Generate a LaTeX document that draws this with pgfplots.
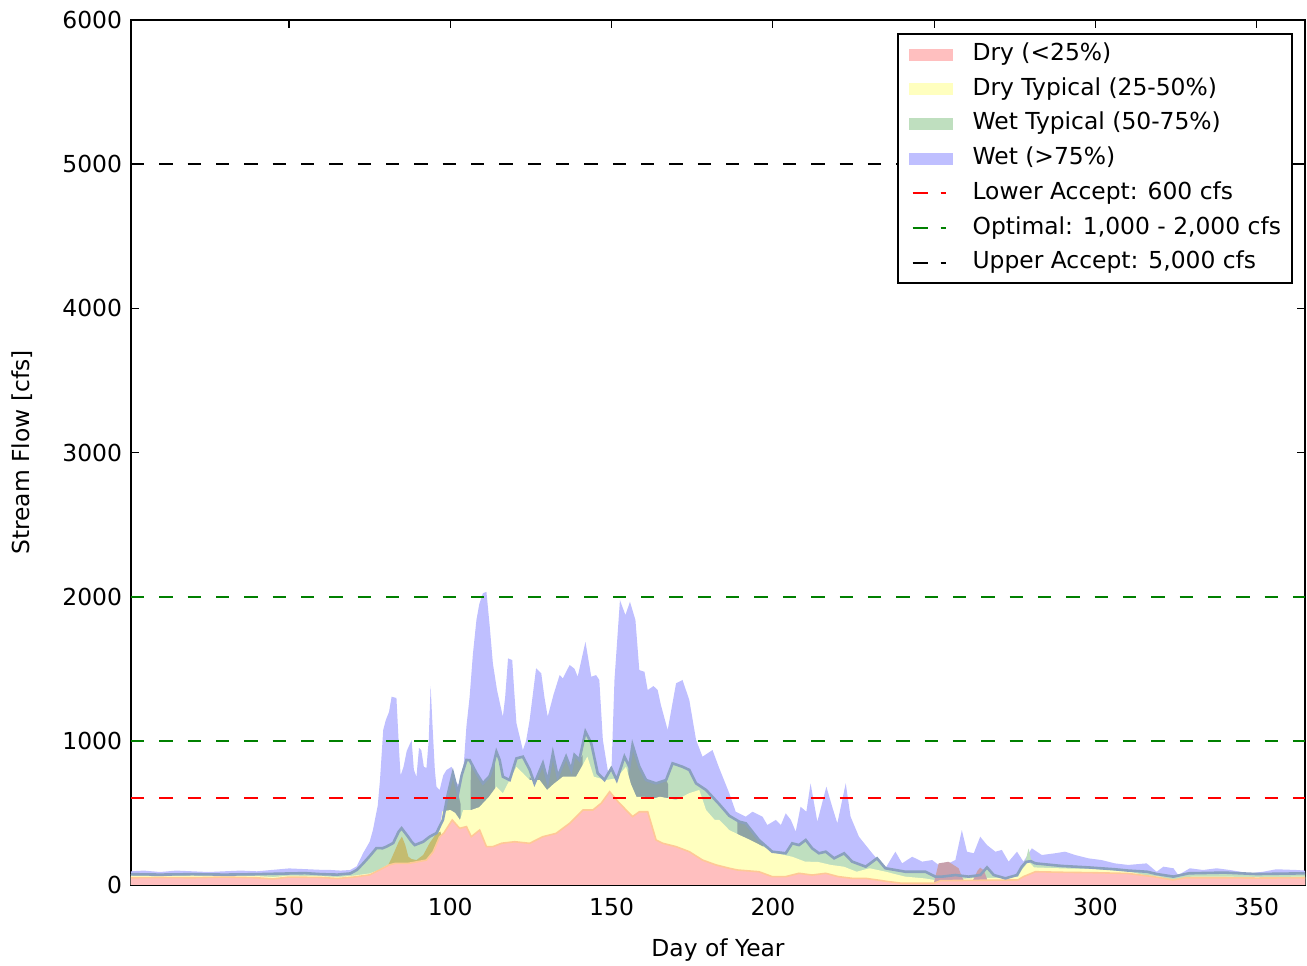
\documentclass[border=0pt]{standalone}
\usepackage{pgfplots}
\pgfplotsset{compat=1.18}
\usepackage{fontspec}
\setmainfont{DejaVu Sans}
\definecolor{wetfill}{RGB}{191,191,255}
\definecolor{wtfill}{RGB}{191,223,191}
\definecolor{dtfill}{RGB}{255,255,191}
\definecolor{dryfill}{RGB}{255,191,191}
\definecolor{grayov}{RGB}{143,164,164}
\definecolor{olivefill}{RGB}{196,188,112}
\definecolor{mauve}{RGB}{200,160,172}
\definecolor{gline}{RGB}{138,160,190}
\definecolor{pedge}{RGB}{255,200,150}
\definecolor{mplgreen}{RGB}{0,128,0}
\newcommand{\fs}{\fontsize{11.7}{14}\selectfont}
\pgfplotsset{
  arealeg/.style={legend image code/.code={\fill[##1] (0pt,-2.5pt) rectangle (21pt,2.5pt);}},
  refleg/.style={legend image code/.code={\draw[##1, dash pattern=on 7.5pt off 6.5pt on 2.5pt off 20pt] (1.5pt,0pt) -- (21pt,0pt);}},
}
\begin{document}
\begin{tikzpicture}
\begin{axis}[
  scale only axis, width=587pt, height=432.5pt,
  xmin=1, xmax=365, ymin=0, ymax=6000,
  xtick={50,100,150,200,250,300,350},
  ytick={0,1000,2000,3000,4000,5000,6000},
  tick align=inside, major tick length=4pt,
  tick style={black, line width=0.6pt},
  axis line style={black, line width=1pt},
  /pgf/number format/assume math mode=true,
  /pgf/number format/1000 sep={},
  tick label style={font=\fs},
  xticklabel style={yshift=-3pt},
  yticklabel style={xshift=-1pt},
  xlabel={Day of Year}, ylabel={Stream Flow [cfs]},
  every axis x label/.style={at={(axis description cs:0.5,0)}, anchor=center, yshift=-32.5pt, font=\fs},
  every axis y label/.style={at={(axis description cs:0,0.5)}, anchor=center, xshift=-54.5pt, rotate=90, font=\fs},
  legend style={at={(axis description cs:1,1)}, anchor=north east, xshift=-6pt, yshift=-6.5pt,
    font=\fs, draw=black, line width=1pt, inner xsep=5.5pt, inner ysep=4.3pt,
    row sep=5.35pt, nodes={inner sep=0pt, text height=9pt, text depth=3pt},
    /tikz/every odd column/.append style={column sep=10pt}},
  legend cell align=left,
]
% legend entries for the bands
\addlegendimage{arealeg, dryfill}
\addlegendentry{Dry (<25\%)}
\addlegendimage{arealeg, dtfill}
\addlegendentry{Dry Typical (25-50\%)}
\addlegendimage{arealeg, wtfill}
\addlegendentry{Wet Typical (50-75\%)}
\addlegendimage{arealeg, wetfill}
\addlegendentry{Wet (>75\%)}
% Wet (top)
\addplot[fill=wetfill, draw=none, forget plot] coordinates {
(1,95)(5,100)(10,90)(15,100)(20,95)(25,90)(30,95)(35,100)(40,95)(45,105)(50,115)(55,110)(60,105)(63,104)(66,100)(69,104)(71,130)(73,222)(75,300)(76,381)(77.5,550)(78.2,728)(79.2,1075)(80,1144)(81,1200)(81.8,1306)(83.3,1297)(84.2,900)(84.6,760)(85.5,820)(86.5,930)(88,1005)(88.7,800)(89.5,751)(90.3,950)(91,936)(91.8,820)(92.6,811)(93.3,1000)(93.9,1380)(94.5,1100)(95.2,800)(95.7,682)(96.7,659)(97.8,760)(98.8,797)(100.4,820)(101.9,707)(103.2,690)(103.9,751)(105,1100)(106,1306)(107,1600)(108.1,1838)(109,1950)(110.1,2023)(111.2,2034)(112.2,1800)(113.2,1537)(114.5,1350)(116.3,1167)(117,1300)(117.9,1572)(119.2,1560)(119.8,1350)(120.5,1123)(122.5,936)(123.5,1000)(124.6,1144)(126.6,1503)(128.2,1468)(129.2,1300)(130.2,1167)(132,1320)(133.9,1456)(134.9,1433)(137,1526)(138.5,1500)(139.5,1445)(141.9,1687)(143.7,1445)(145.2,1456)(146.2,1422)(147.3,1006)(148.8,798)(149.9,751)(150.9,1422)(152.6,1976)(154.3,1872)(155.7,1965)(157.4,1838)(158.6,1491)(160.2,1479)(161.2,1352)(163,1380)(164.3,1352)(165.3,1248)(167.4,1075)(170,1399)(172,1422)(174.1,1283)(176.2,1006)(178.2,890)(181.3,936)(183.4,809)(186.5,636)(188.5,508)(191.6,474)(193.7,508)(196.8,474)(198.3,416)(200.9,451)(202.5,416)(204,497)(205.6,451)(207.1,370)(208.6,543)(210.4,508)(211.7,705)(213.8,439)(216.6,682)(218.4,543)(220,428)(222.6,705)(224.1,474)(226.7,335)(230.8,220)(234.9,116)(238,231)(240.1,150)(243.2,196)(246.3,162)(249.4,173)(251.4,139)(254.5,150)(256.6,173)(258.6,381)(260.2,231)(262.3,220)(264.3,335)(266.4,277)(269,231)(271,243)(273.1,162)(275.7,231)(277.7,162)(280.3,254)(283.4,208)(287.5,220)(290.6,231)(293.7,208)(297.8,185)(301.9,173)(306,150)(310.2,139)(315.9,150)(319,92)(321.1,127)(324.2,116)(325.7,69)(329.3,116)(333.4,104)(337.6,116)(341.7,104)(347.9,81)(352,92)(356.1,109)(362.3,104)(365,100)
} \closedcycle;
% Wet Typical (green)
\addplot[fill=wtfill, draw=none, forget plot] coordinates {
(1,75)(10,72)(20,75)(30,72)(40,75)(50,80)(55,82)(60,75)(65,72)(69,80)(71,104)(73,150)(75,200)(77.1,256)(79,255)(80.2,266)(82.3,291)(84,370)(84.9,394)(86.9,335)(88,300)(89,277)(91.6,300)(93.6,335)(95.7,360)(97.7,451)(99.3,636)(100.8,776)(102.4,636)(103.5,760)(105,867)(106,866)(108.1,776)(110.1,705)(112.2,755)(113.2,820)(114.3,924)(115.3,867)(116.3,751)(118.4,728)(120.5,878)(122.5,890)(124.6,800)(126.1,705)(128.7,844)(130.2,716)(131.8,913)(133.3,751)(135.9,890)(137.5,798)(138.5,902)(140,867)(141.9,1063)(143.7,983)(145.7,775)(147.8,728)(149.9,809)(151.6,728)(154,890)(155.5,820)(156.5,971)(158.6,820)(160.7,728)(163.8,705)(166.9,728)(168.9,844)(172,820)(174.1,798)(176.2,705)(179.3,659)(183.4,560)(186.5,480)(189.6,439)(191.6,428)(195.7,312)(199.8,231)(204,220)(206,289)(208.1,277)(210.2,312)(212.2,254)(214.3,220)(216.4,231)(219,185)(222.1,220)(224.6,162)(228.8,127)(232.3,185)(234.9,116)(241.1,92)(247.3,92)(250.4,58)(252.5,58)(256.6,69)(260.7,58)(264.3,69)(266.4,122)(268.5,69)(272.1,46)(275.7,69)(277.2,127)(278.5,180)(279.3,254)(280,180)(281.4,150)(289.6,132)(297.8,122)(306,109)(310.2,100)(316,92)(319,76)(324.2,58)(329,81)(340,86)(350,76)(365,81)
} \closedcycle;
% overlap (grey) segments
\addplot[fill=grayov, draw=none, forget plot] coordinates {(97,380)(97.7,451)(99.3,636)(100.8,776)(102.4,636)(103.2,560)} \closedcycle;
\addplot[fill=grayov, draw=none, forget plot] coordinates {(106.3,700)(106.5,850)(108.1,776)(110.1,705)(112.2,755)(113.2,820)(113.8,880)} \closedcycle;
\addplot[fill=grayov, draw=none, forget plot] coordinates {(124.6,750)(126.1,705)(128.7,844)(130.2,716)(131.8,913)(133.3,751)(135.9,890)(137.5,798)(138.5,902)(140,867)(141,900)} \closedcycle;
\addplot[fill=grayov, draw=none, forget plot] coordinates {(155.2,800)(156.5,971)(158.6,820)(160.7,728)(163.8,705)(166.9,728)(167.5,700)} \closedcycle;
\addplot[fill=grayov, draw=none, forget plot] coordinates {(189,440)(191.6,428)(193.5,380)(195.7,312)(197,280)} \closedcycle;
% Dry Typical (yellow)
\addplot[fill=dtfill, draw=none, forget plot] coordinates {
(1,62)(10,60)(20,65)(30,60)(40,62)(45,55)(50,65)(60,62)(65,55)(70,65)(75,80)(78,105)(81,145)(83,155)(87,155)(90,168)(92.6,180)(94.7,240)(96.7,380)(97.5,510)(100,520)(101.5,500)(103,451)(104,520)(106.5,520)(109,540)(112,612)(114.3,682)(116.3,636)(118.4,728)(120.5,820)(122.5,776)(124.6,728)(127.7,728)(130,659)(132,700)(134.9,751)(139,751)(142.5,890)(144.5,751)(148.3,728)(151.4,740)(154.5,820)(156,700)(157.7,612)(160,612)(163,600)(165,612)(167.9,600)(170,589)(174,636)(177.2,659)(179.3,520)(182,451)(183.4,451)(186.5,381)(189.6,347)(193,312)(197,266)(201,220)(206,196)(210,162)(214,160)(218,139)(222,127)(226,92)(230,116)(235,92)(241,58)(247,46)(250,35)(255,45)(260,45)(265,50)(270,50)(276,55)(277.2,104)(279.3,162)(281,122)(290,115)(300,110)(310,95)(315,70)(320,58)(324,23)(327,45)(330,58)(340,58)(350,55)(365,58)
} \closedcycle;
% olive overlap
\addplot[fill=olivefill, draw=none, forget plot] coordinates {(79.5,100)(81,150)(82,196)(84,300)(85,335)(86,280)(87,196)(88,180)(89.5,173)(91.6,208)(93.6,291)(95.7,358)(97,370)(97.3,300)} \closedcycle;
% mauve bumps
\addplot[fill=mauve, draw=none, forget plot] coordinates {(250,20)(251.4,150)(254.5,161)(257.6,116)(258.6,58)(259.5,20)} \closedcycle;
\addplot[fill=mauve, draw=none, forget plot] coordinates {(262,30)(263.5,100)(264.3,120)(265.5,100)(266.4,40)} \closedcycle;
% Dry (pink)
\addplot[fill=dryfill, draw=none, forget plot] coordinates {
(1,50)(10,52)(20,50)(30,55)(40,50)(45,42)(50,55)(60,52)(65,45)(70,55)(75,70)(78,104)(81,139)(83,150)(87,150)(90,162)(92.6,173)(94.7,231)(96.7,335)(98,360)(100.6,451)(102.9,393)(105,405)(106.5,335)(109.1,381)(111.2,266)(113.2,266)(116,290)(120,300)(124.6,289)(128.7,335)(132.8,358)(137,428)(141.1,520)(144.2,520)(146.8,567)(149.4,647)(152,578)(154.5,520)(156.5,474)(158.6,508)(161.2,508)(163.8,312)(165.9,289)(170,266)(174.1,231)(178.2,173)(182.4,139)(186.5,116)(189,104)(195.7,92)(199.8,58)(204,58)(208.1,81)(212.2,69)(216.4,81)(220.3,58)(224.6,46)(228.8,46)(232.3,35)(236,23)(240,12)(250,12)(252,30)(276,35)(277.7,58)(281.4,92)(290,88)(300,85)(310,80)(318,58)(324,35)(328,50)(340,50)(350,48)(365,50)
} \closedcycle;
\addplot[pedge, line width=0.8pt, forget plot] coordinates {
(1,50)(10,52)(20,50)(30,55)(40,50)(45,42)(50,55)(60,52)(65,45)(70,55)(75,70)(78,104)(81,139)(83,150)(87,150)(90,162)(92.6,173)(94.7,231)(96.7,335)(98,360)(100.6,451)(102.9,393)(105,405)(106.5,335)(109.1,381)(111.2,266)(113.2,266)(116,290)(120,300)(124.6,289)(128.7,335)(132.8,358)(137,428)(141.1,520)(144.2,520)(146.8,567)(149.4,647)(152,578)(154.5,520)(156.5,474)(158.6,508)(161.2,508)(163.8,312)(165.9,289)(170,266)(174.1,231)(178.2,173)(182.4,139)(186.5,116)(189,104)(195.7,92)(199.8,58)(204,58)(208.1,81)(212.2,69)(216.4,81)(220.3,58)(224.6,46)(228.8,46)(232.3,35)(236,23)(240,12)(250,12)(252,30)(276,35)(277.7,58)(281.4,92)(290,88)(300,85)(310,80)(318,58)(324,35)(328,50)(340,50)(350,48)(365,50)
};
% grey boundary line of the wet-typical band
\addplot[gline, line width=1.3pt, forget plot] coordinates {
(1,75)(10,72)(20,75)(30,72)(40,75)(50,80)(55,82)(60,75)(65,72)(69,80)(71,104)(73,150)(75,200)(77.1,256)(79,255)(80.2,266)(82.3,291)(84,370)(84.9,394)(86.9,335)(88,300)(89,277)(91.6,300)(93.6,335)(95.7,360)(97.7,451)(99.3,636)(100.8,776)(102.4,636)(103.5,760)(105,867)(106,866)(108.1,776)(110.1,705)(112.2,755)(113.2,820)(114.3,924)(115.3,867)(116.3,751)(118.4,728)(120.5,878)(122.5,890)(124.6,800)(126.1,705)(128.7,844)(130.2,716)(131.8,913)(133.3,751)(135.9,890)(137.5,798)(138.5,902)(140,867)(141.9,1063)(143.7,983)(145.7,775)(147.8,728)(149.9,809)(151.6,728)(154,890)(155.5,820)(156.5,971)(158.6,820)(160.7,728)(163.8,705)(166.9,728)(168.9,844)(172,820)(174.1,798)(176.2,705)(179.3,659)(183.4,560)(186.5,480)(189.6,439)(191.6,428)(195.7,312)(199.8,231)(204,220)(206,289)(208.1,277)(210.2,312)(212.2,254)(214.3,220)(216.4,231)(219,185)(222.1,220)(224.6,162)(228.8,127)(232.3,185)(234.9,116)(241.1,92)(247.3,92)(250.4,58)(252.5,58)(256.6,69)(260.7,58)(264.3,69)(266.4,122)(268.5,69)(272.1,46)(275.7,69)(277.2,127)(278.5,160)(280,165)(281.4,150)(289.6,132)(297.8,122)(306,109)(310.2,100)(316,92)(319,76)(324.2,58)(329,81)(340,86)(350,76)(365,81)
};
% reference lines
\addplot[red, line width=1pt, dash pattern=on 6.67pt off 7.5pt, refleg] coordinates {(1,600)(365,600)};
\addlegendentry{Lower Accept: 600 cfs}
\addplot[mplgreen, line width=1pt, dash pattern=on 6.67pt off 7.5pt, refleg] coordinates {(1,1000)(365,1000)};
\addlegendentry{Optimal: 1,000 - 2,000 cfs}
\addplot[mplgreen, line width=1pt, dash pattern=on 6.67pt off 7.5pt, forget plot] coordinates {(1,2000)(365,2000)};
\addplot[black, line width=1pt, dash pattern=on 6.67pt off 7.5pt, refleg] coordinates {(1,5000)(365,5000)};
\addlegendentry{Upper Accept: 5,000 cfs}
\end{axis}
\pgfresetboundingbox
\path[use as bounding box] ([xshift=-65.5pt,yshift=-40.5pt]current axis.south west) rectangle ([xshift=1pt,yshift=10pt]current axis.north east);
\end{tikzpicture}
\end{document}
